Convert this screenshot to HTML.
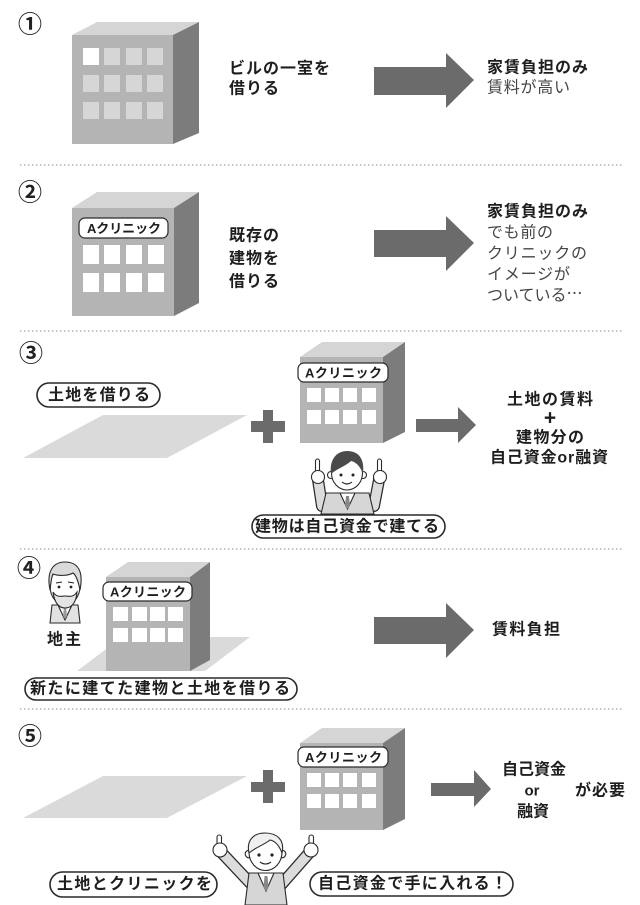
<!DOCTYPE html>
<html><head><meta charset="utf-8"><style>
html,body{margin:0;padding:0;background:#fff;}
svg{display:block;}
text{font-family:"Liberation Sans","Noto Sans CJK JP",sans-serif;}
.b{font-weight:700;fill:#1e1e1e;}
.r{font-weight:400;fill:#454545;}
.num{font-weight:700;fill:#222;font-size:24px;font-family:"Noto Sans CJK JP",sans-serif;}
.pill{fill:#fff;stroke:#2a2a2a;stroke-width:1.6;}
.lbl{fill:#fff;stroke:#2a2a2a;stroke-width:1.2;}
.front{fill:#b4b4b4;}
.top{fill:#d5d5d5;}
.side{fill:#7c7c7c;}
.win{fill:#fff;}
.sep{stroke:#b0b0b0;stroke-width:1.4;stroke-dasharray:1.4 2.6;}
.ar{fill:#6b6b6b;}
.ln{stroke:#2a2a2a;stroke-width:1.1;}
</style></head><body>
<svg width="640" height="905" viewBox="0 0 640 905" xmlns="http://www.w3.org/2000/svg">

<!-- separators -->
<line class="sep" x1="20" y1="165" x2="623" y2="165"/>
<line class="sep" x1="20" y1="331" x2="623" y2="331"/>
<line class="sep" x1="20" y1="549" x2="623" y2="549"/>
<line class="sep" x1="20" y1="709" x2="623" y2="709"/>

<!-- ===== Section 1 ===== -->
<text class="num" x="30" y="22" text-anchor="middle" dominant-baseline="central">①</text>
<polygon class="top" points="72,35 97,22 199,22 173,35"/>
<polygon class="side" points="173,35 199,22 199,133 173,144"/>
<rect class="front" x="72" y="35" width="101" height="109"/>
<g fill="#d6d6d6">
<rect x="83" y="48" width="16" height="17" fill="#fff"/><rect x="104" y="48" width="16" height="17"/><rect x="126" y="48" width="16" height="17"/><rect x="147" y="48" width="16" height="17"/>
<rect x="83" y="75" width="16" height="17"/><rect x="104" y="75" width="16" height="17"/><rect x="126" y="75" width="16" height="17"/><rect x="147" y="75" width="16" height="17"/>
<rect x="83" y="102" width="16" height="17"/><rect x="104" y="102" width="16" height="17"/><rect x="126" y="102" width="16" height="17"/><rect x="147" y="102" width="16" height="17"/>
</g>
<text class="b" x="229" y="69" font-size="16" dominant-baseline="central" textLength="101" lengthAdjust="spacing">ビルの一室を</text>
<text class="b" x="229" y="89" font-size="16" dominant-baseline="central" textLength="50" lengthAdjust="spacing">借りる</text>
<polygon class="ar" points="374,67 446,67 446,53 474,80 446,108 446,95 374,95"/>
<text class="b" x="487" y="68" font-size="16" dominant-baseline="central" textLength="101" lengthAdjust="spacing">家賃負担のみ</text>
<text class="r" x="487" y="88" font-size="16" dominant-baseline="central" textLength="83" lengthAdjust="spacing">賃料が高い</text>

<!-- ===== Section 2 ===== -->
<text class="num" x="30" y="190" text-anchor="middle" dominant-baseline="central">②</text>
<polygon class="top" points="72,208 97,192 199,192 174,208"/>
<polygon class="side" points="174,208 199,192 199,303 174,316"/>
<rect class="front" x="72" y="208" width="102" height="108"/>
<rect class="lbl" x="79" y="218" width="89" height="20" rx="6"/>
<text class="b" x="87" y="228.5" font-size="13" dominant-baseline="central" textLength="74" lengthAdjust="spacing">Aクリニック</text>
<g class="win">
<rect x="83" y="245" width="16" height="19"/><rect x="104" y="245" width="16" height="19"/><rect x="126" y="245" width="16" height="19"/><rect x="148" y="245" width="16" height="19"/>
<rect x="83" y="273" width="16" height="19"/><rect x="104" y="273" width="16" height="19"/><rect x="126" y="273" width="16" height="19"/><rect x="148" y="273" width="16" height="19"/>
</g>
<text class="b" x="229" y="236" font-size="16" dominant-baseline="central" textLength="50" lengthAdjust="spacing">既存の</text>
<text class="b" x="229" y="259" font-size="16" dominant-baseline="central" textLength="50" lengthAdjust="spacing">建物を</text>
<text class="b" x="229" y="282" font-size="16" dominant-baseline="central" textLength="50" lengthAdjust="spacing">借りる</text>
<polygon class="ar" points="374,230 446,230 446,216 474,243 446,271 446,257 374,257"/>
<text class="b" x="487" y="212" font-size="16" dominant-baseline="central" textLength="101" lengthAdjust="spacing">家賃負担のみ</text>
<text class="r" x="487" y="233" font-size="16" dominant-baseline="central" textLength="66" lengthAdjust="spacing">でも前の</text>
<text class="r" x="487" y="254" font-size="16" dominant-baseline="central" textLength="100" lengthAdjust="spacing">クリニックの</text>
<text class="r" x="487" y="275" font-size="16" dominant-baseline="central" textLength="83" lengthAdjust="spacing">イメージが</text>
<text class="r" x="487" y="296" font-size="16" dominant-baseline="central">ついている<tspan dy="-4" font-family="Noto Sans CJK JP, sans-serif">…</tspan></text>

<!-- ===== Section 3 ===== -->
<text class="num" x="31" y="351" text-anchor="middle" dominant-baseline="central">③</text>
<rect class="pill" x="37" y="383" width="123" height="24" rx="12"/>
<text class="b" x="48" y="395.5" font-size="16" dominant-baseline="central" textLength="102" lengthAdjust="spacing">土地を借りる</text>
<polygon fill="#dadada" points="23,458 103,415 247,415 167,458"/>
<rect class="ar" x="251" y="421" width="34" height="11"/>
<rect class="ar" x="263" y="410" width="10" height="33"/>
<polygon class="top" points="300,357 322,342 405,342 383,357"/>
<polygon class="side" points="383,357 405,342 405,432 383,443"/>
<rect class="front" x="300" y="357" width="83" height="86"/>
<rect class="lbl" x="298" y="363" width="90" height="19" rx="6"/>
<text class="b" x="305" y="373" font-size="13" dominant-baseline="central" textLength="77" lengthAdjust="spacing">Aクリニック</text>
<g class="win">
<rect x="307" y="388" width="14" height="14"/><rect x="325" y="388" width="14" height="14"/><rect x="343" y="388" width="14" height="14"/><rect x="362" y="388" width="14" height="14"/>
<rect x="307" y="410" width="14" height="14"/><rect x="325" y="410" width="14" height="14"/><rect x="343" y="410" width="14" height="14"/><rect x="362" y="410" width="14" height="14"/>
</g>
<polygon class="ar" points="416,419 458,419 458,407 476,425 458,443 458,432 416,432"/>
<text class="b" x="550" y="400" font-size="16" text-anchor="middle" dominant-baseline="central" textLength="86" lengthAdjust="spacing">土地の賃料</text>
<text class="b" x="550" y="418" font-size="21" text-anchor="middle" dominant-baseline="central">+</text>
<text class="b" x="550" y="438" font-size="16" text-anchor="middle" dominant-baseline="central" textLength="68" lengthAdjust="spacing">建物分の</text>
<text class="b" x="549" y="458" font-size="16" text-anchor="middle" dominant-baseline="central" textLength="118" lengthAdjust="spacing">自己資金or融資</text>

<!-- person 3 -->
<g>
<path d="M318,480 L322,506" stroke="#2a2a2a" stroke-width="12" stroke-linecap="round"/>
<path d="M318,480 L322,506" stroke="#dcdcdc" stroke-width="9.5" stroke-linecap="round"/>
<path d="M379,480 L374,506" stroke="#2a2a2a" stroke-width="12" stroke-linecap="round"/>
<path d="M379,480 L374,506" stroke="#dcdcdc" stroke-width="9.5" stroke-linecap="round"/>
<path d="M326,493 L369,493 L374,514 L321,514 Z" fill="#d6d6d6" class="ln"/>
<path d="M340,493 L355,493 L347.5,509 Z" fill="#fff" class="ln"/>
<path d="M346,496 L349,496 L350,506 L347.5,509 L345,506 Z" fill="#888"/>
<rect x="315.5" y="459" width="4" height="14" rx="2" fill="#fff" class="ln"/>
<circle cx="318" cy="477" r="6.5" fill="#fff" class="ln"/>
<rect x="377.5" y="459" width="4" height="14" rx="2" fill="#fff" class="ln"/>
<circle cx="380" cy="477" r="6.5" fill="#fff" class="ln"/>
<circle cx="331" cy="475" r="3.5" fill="#fff" class="ln"/>
<circle cx="363" cy="475" r="3.5" fill="#fff" class="ln"/>
<ellipse cx="347" cy="473" rx="15.5" ry="17" fill="#fff" class="ln"/>
<path d="M331,474 C329,458 338,451 347,451 C358,451 365,458 363,474 C360,466 356,462 351,461 C346,466 338,468 331,474 Z" fill="#4a4a4a"/>
<circle cx="341" cy="475" r="1.5" fill="#222"/>
<circle cx="353" cy="475" r="1.5" fill="#222"/>
<path d="M342,482 Q347,486 352,482" fill="none" stroke="#222" stroke-width="1.1"/>
</g>
<rect class="pill" x="252" y="515" width="193" height="23" rx="11.5"/>
<text class="b" x="255" y="527" font-size="16" dominant-baseline="central" textLength="184" lengthAdjust="spacing">建物は自己資金で建てる</text>

<!-- ===== Section 4 ===== -->
<text class="num" x="29" y="566" text-anchor="middle" dominant-baseline="central">④</text>
<!-- old man -->
<g>
<path d="M50,623 L52,605 L78,605 L80,623 Z" fill="#e2e2e2" class="ln"/>
<path d="M58,605 L72,605 L65,620 Z" fill="#fff" class="ln"/>
<path d="M64,607 L66,607 L67,616 L65,619 L63,616 Z" fill="#999"/>
<ellipse cx="65" cy="586" rx="15" ry="19" fill="#fff" class="ln"/>
<path d="M50,590 C46,570 54,562 65,562 C77,562 84,570 80,590 C78,580 76,575 73,573 C68,576 58,576 53,574 C51,578 51,584 50,590 Z" fill="#dadada" class="ln"/>
<path d="M53,592 C55,606 61,608 65,608 C69,608 76,606 77,592 C73,598 69,596 65,596 C61,596 57,598 53,592 Z" fill="#e4e4e4" class="ln"/>
<circle cx="59" cy="587" r="1.4" fill="#222"/>
<circle cx="71" cy="587" r="1.4" fill="#222"/>
<path d="M56,583 L62,582 M68,582 L74,583" stroke="#222" stroke-width="1"/>
</g>
<text class="b" x="47" y="640" font-size="16" dominant-baseline="central" textLength="34" lengthAdjust="spacing">地主</text>
<polygon fill="#dadada" points="77,671 122,637 250,637 205,671"/>
<polygon class="top" points="106,577 128,562 210,562 190,577"/>
<polygon class="side" points="190,577 210,562 210,660 190,671"/>
<rect class="front" x="106" y="577" width="84" height="94"/>
<rect class="lbl" x="103" y="582" width="89" height="19" rx="6"/>
<text class="b" x="110" y="592" font-size="13" dominant-baseline="central" textLength="76" lengthAdjust="spacing">Aクリニック</text>
<g class="win">
<rect x="113" y="607" width="15" height="14"/><rect x="132" y="607" width="15" height="14"/><rect x="150" y="607" width="15" height="14"/><rect x="168" y="607" width="15" height="14"/>
<rect x="113" y="628" width="15" height="14"/><rect x="132" y="628" width="15" height="14"/><rect x="150" y="628" width="15" height="14"/><rect x="168" y="628" width="15" height="14"/>
</g>
<rect class="pill" x="25" y="678" width="272" height="22" rx="11"/>
<text class="b" x="30" y="689" font-size="16" dominant-baseline="central" textLength="260" lengthAdjust="spacing">新たに建てた建物と土地を借りる</text>
<polygon class="ar" points="374,617 446,617 446,603 474,630 446,658 446,644 374,644"/>
<text class="b" x="492" y="630" font-size="16" dominant-baseline="central" textLength="68" lengthAdjust="spacing">賃料負担</text>

<!-- ===== Section 5 ===== -->
<text class="num" x="30" y="734" text-anchor="middle" dominant-baseline="central">⑤</text>
<polygon fill="#dadada" points="23,818 103,776 247,776 167,818"/>
<rect class="ar" x="251" y="782" width="34" height="10"/>
<rect class="ar" x="263" y="770" width="10" height="33"/>
<polygon class="top" points="300,743 322,728 405,728 383,743"/>
<polygon class="side" points="383,743 405,728 405,819 383,830"/>
<rect class="front" x="300" y="743" width="83" height="87"/>
<rect class="lbl" x="298" y="747" width="90" height="20" rx="6"/>
<text class="b" x="305" y="757.5" font-size="13" dominant-baseline="central" textLength="77" lengthAdjust="spacing">Aクリニック</text>
<g class="win">
<rect x="307" y="773" width="14" height="14"/><rect x="325" y="773" width="14" height="14"/><rect x="343" y="773" width="14" height="14"/><rect x="362" y="773" width="14" height="14"/>
<rect x="307" y="794" width="14" height="14"/><rect x="325" y="794" width="14" height="14"/><rect x="343" y="794" width="14" height="14"/><rect x="362" y="794" width="14" height="14"/>
</g>
<polygon class="ar" points="431,783 474,783 474,770 491,789 474,807 474,796 431,796"/>
<text class="b" x="502" y="770" font-size="16" dominant-baseline="central" textLength="64" lengthAdjust="spacing">自己資金</text>
<text class="b" x="532" y="791" font-size="15" text-anchor="middle" dominant-baseline="central">or</text>
<text class="b" x="533" y="812" font-size="16" text-anchor="middle" dominant-baseline="central" textLength="32" lengthAdjust="spacing">融資</text>
<text class="b" x="575" y="791" font-size="16" dominant-baseline="central" textLength="50" lengthAdjust="spacing">が必要</text>

<!-- person 5 -->
<g>
<path d="M221,852 L252,885" stroke="#2a2a2a" stroke-width="12" stroke-linecap="round"/>
<path d="M221,852 L252,885" stroke="#dcdcdc" stroke-width="9.5" stroke-linecap="round"/>
<path d="M310,852 L281,885" stroke="#2a2a2a" stroke-width="12" stroke-linecap="round"/>
<path d="M310,852 L281,885" stroke="#dcdcdc" stroke-width="9.5" stroke-linecap="round"/>
<path d="M249,873 L283,873 L287,905 L245,905 Z" fill="#d6d6d6" class="ln"/>
<path d="M258,873 L274,873 L266,891 Z" fill="#fff" class="ln"/>
<path d="M264.5,876 L267.5,876 L268.5,888 L266,891 L263.5,888 Z" fill="#888"/>
<rect x="217" y="835" width="4.5" height="14" rx="2.2" fill="#fff" class="ln"/>
<circle cx="220" cy="850" r="7" fill="#fff" class="ln"/>
<rect x="309" y="835" width="4.5" height="14" rx="2.2" fill="#fff" class="ln"/>
<circle cx="311" cy="850" r="7" fill="#fff" class="ln"/>
<circle cx="249" cy="854" r="3.8" fill="#fff" class="ln"/>
<circle cx="282" cy="854" r="3.8" fill="#fff" class="ln"/>
<ellipse cx="265.5" cy="852" rx="16.5" ry="18.5" fill="#fff" class="ln"/>
<path d="M249,853 C246,840 254,833 265,833 C277,833 285,840 282,853 C279,845 275,841 270,840 C264,845 256,847 249,853 Z" fill="#efefef" class="ln"/>
<circle cx="259" cy="855" r="1.6" fill="#222"/>
<circle cx="272" cy="855" r="1.6" fill="#222"/>
<path d="M260,862 Q265.5,866 271,862" fill="none" stroke="#222" stroke-width="1.1"/>
</g>
<rect class="pill" x="50" y="872" width="167" height="25" rx="12.5"/>
<text class="b" x="57" y="884.5" font-size="16" dominant-baseline="central" textLength="155" lengthAdjust="spacing">土地とクリニックを</text>
<rect class="pill" x="310" y="872" width="203" height="24" rx="12"/>
<text class="b" x="318" y="884" font-size="16" dominant-baseline="central" textLength="189" lengthAdjust="spacing">自己資金で手に入れる！</text>

</svg>
</body></html>
